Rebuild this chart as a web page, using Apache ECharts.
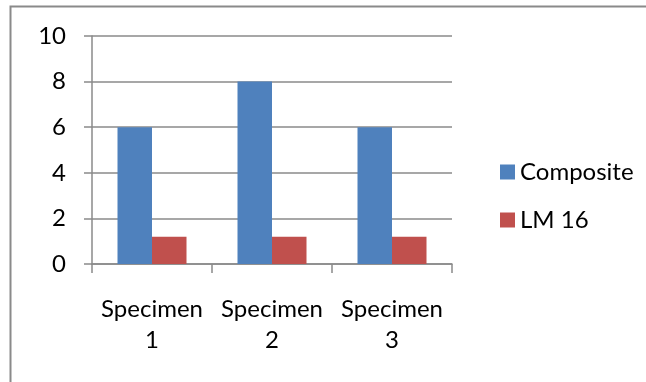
<!DOCTYPE html>
<html>
<head>
<meta charset="utf-8">
<style>
  html, body { margin: 0; padding: 0; background: #fff; }
  #chart { width: 646px; height: 382px; }
</style>
<script src="https://cdn.jsdelivr.net/npm/echarts@6/dist/echarts.min.js"></script>
</head>
<body>
<div id="chart"></div>
<script>
// Specimen categories and the two measured series
const categories = ['Specimen\n1', 'Specimen\n2', 'Specimen\n3'];
const compositeValues = [6, 8, 6];
const lm16Values = [1.2, 1.2, 1.2];
const yTicks = { min: 0, max: 10, interval: 2 };

const FONT = 'Lato';
const FONT_SIZE = 24;
const GREY = '#8a8a8a';

const chart = echarts.init(document.getElementById('chart'), null, { renderer: 'canvas' });

chart.setOption({
  animation: false,
  backgroundColor: '#fff',
  textStyle: { fontFamily: FONT, color: '#000' },
  graphic: [{
    type: 'rect',
    shape: { x: 10.5, y: 6.5, width: 700, height: 500 },
    style: { fill: 'none', stroke: GREY, lineWidth: 2 },
    silent: true
  }],
  grid: { left: 92, top: 36, width: 360, height: 228 },
  legend: {
    orient: 'vertical',
    left: 495,
    top: 155,
    itemWidth: 15,
    itemHeight: 15,
    itemGap: 24,
    icon: 'rect',
    textStyle: { fontFamily: FONT, fontSize: FONT_SIZE, color: '#000', lineHeight: 24 },
    data: ['Composite', 'LM 16']
  },
  xAxis: {
    type: 'category',
    data: categories,
    axisLine: { lineStyle: { color: GREY, width: 1.5 } },
    axisTick: { show: true, length: 9, lineStyle: { color: GREY, width: 1.5 } },
    axisLabel: {
      fontFamily: FONT, fontSize: FONT_SIZE, color: '#000',
      margin: 30, lineHeight: 31, interval: 0
    }
  },
  yAxis: {
    type: 'value',
    min: yTicks.min,
    max: yTicks.max,
    interval: yTicks.interval,
    axisLine: { show: true, lineStyle: { color: GREY, width: 1.5 } },
    axisTick: { show: true, length: 8, lineStyle: { color: GREY, width: 1.5 } },
    splitLine: { lineStyle: { color: GREY, width: 1.5 } },
    axisLabel: { fontFamily: FONT, fontSize: FONT_SIZE, color: '#000', margin: 26 }
  },
  series: [
    {
      name: 'Composite',
      type: 'bar',
      data: compositeValues,
      barWidth: 34.5,
      barGap: '0%',
      itemStyle: { color: '#4F81BD' }
    },
    {
      name: 'LM 16',
      type: 'bar',
      data: lm16Values,
      barWidth: 34.5,
      barGap: '0%',
      itemStyle: { color: '#C0504D' }
    }
  ]
});
</script>
</body>
</html>
